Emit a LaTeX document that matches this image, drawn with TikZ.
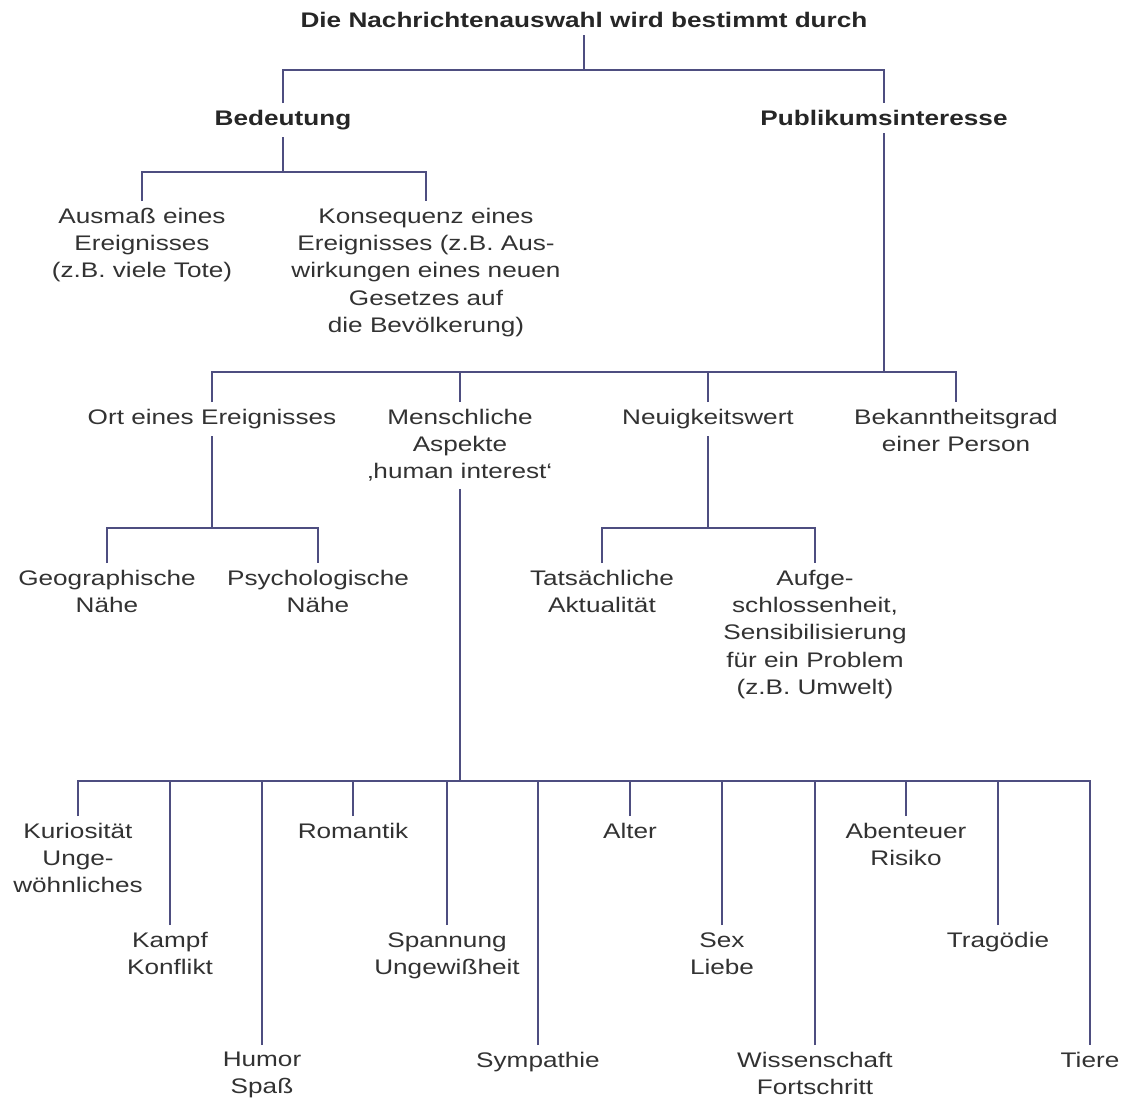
\documentclass[tikz,border=0pt]{standalone}
\usepackage{fontspec}
\setmainfont[FakeStretch=1.24]{Liberation Sans}
\usepackage{tikz}
\usetikzlibrary{positioning}
\definecolor{linie}{RGB}{78,78,128}
\definecolor{schrift}{RGB}{50,50,50}
\tikzset{txt/.style={anchor=north,align=center,inner sep=5pt,text=schrift,font=\fontsize{15}{19.3}\selectfont}}
\tikzset{head/.style={txt,text=black!85,font=\fontsize{15}{19.3}\selectfont\bfseries}}
\tikzset{conn/.style={draw=linie,line width=1.3pt}}

\begin{document}
\begin{tikzpicture}[x=0.025cm,y=-0.025cm]
% \draw[help lines,step=50] (0,0) grid (1123,1098);
\useasboundingbox (0,0) rectangle (1123,1098);
\node (titel) [head] at (584,5) {Die Nachrichtenauswahl wird bestimmt durch};
\node (bed) [head] at (283,103) {Bedeutung};
\node (pub) [head] at (884,103) {Publikumsinteresse};
\node (ausm) [txt] at (142,201) {Ausmaß eines\\Ereignisses\\(z.B. viele Tote)};
\node (kons) [txt] at (426,201) {Konsequenz eines\\Ereignisses (z.B. Aus-\\wirkungen eines neuen\\Gesetzes auf\\die Bevölkerung)};
\node (ort) [txt] at (212,402) {Ort eines Ereignisses};
\node (mensch) [txt] at (460,402) {Menschliche\\Aspekte\\‚human interest‘};
\node (neu) [txt] at (708,402) {Neuigkeitswert};
\node (bek) [txt] at (956,402) {Bekanntheitsgrad\\einer Person};
\node (geo) [txt] at (107,563) {Geographische\\Nähe};
\node (psy) [txt] at (318,563) {Psychologische\\Nähe};
\node (tats) [txt] at (602,563) {Tatsächliche\\Aktualität};
\node (aufg) [txt] at (815,563) {Aufge-\\schlossenheit,\\Sensibilisierung\\für ein Problem\\(z.B. Umwelt)};
%
\node (kur) [txt] at (78,816) {Kuriosität\\Unge-\\wöhnliches};
\node (kampf) [txt] at (170,925) {Kampf\\Konflikt};
\node (humor) [txt] at (262,1045) {Humor\\Spaß};
\node (rom) [txt] at (353,816) {Romantik};
\node (spann) [txt] at (447,925) {Spannung\\Ungewißheit};
\node (symp) [txt] at (538,1045) {Sympathie};
\node (alter) [txt] at (630,816) {Alter};
\node (sex) [txt] at (722,925) {Sex\\Liebe};
\node (wiss) [txt] at (815,1045) {Wissenschaft\\Fortschritt};
\node (abent) [txt] at (906,816) {Abenteuer\\Risiko};
\node (trag) [txt] at (998,925) {Tragödie};
\node (tiere) [txt] at (1090,1045) {Tiere};
%
\coordinate (b0) at (584,70);
\coordinate (b1) at (283,172);
\coordinate (b2) at (884,372);
\coordinate (b3) at (212,528);
\coordinate (b4) at (708,528);
\coordinate (b5) at (460,781);
%
\draw[conn] (titel.south) -- (b0);
\draw[conn] (bed.north) |- (b0) -| (pub.north);
\draw[conn] (bed.south) -- (b1);
\draw[conn] (ausm.north) |- (b1) -| (kons.north);
\draw[conn] (pub.south) -- (b2);
\draw[conn] (ort.north) |- (b2) -| (bek.north);
\draw[conn] (mensch.north) -- (mensch.north |- b2);
\draw[conn] (neu.north) -- (neu.north |- b2);
\draw[conn] (ort.south) -- (b3);
\draw[conn] (geo.north) |- (b3) -| (psy.north);
\draw[conn] (neu.south) -- (b4);
\draw[conn] (tats.north) |- (b4) -| (aufg.north);
\draw[conn] (mensch.south) -- (b5);
\draw[conn] (kur.north) |- (b5) -| (tiere.north);
\foreach \n in {kampf,humor,rom,spann,symp,alter,sex,wiss,abent,trag}
  \draw[conn] (\n.north) -- (\n.north |- b5);
\end{tikzpicture}
\end{document}
